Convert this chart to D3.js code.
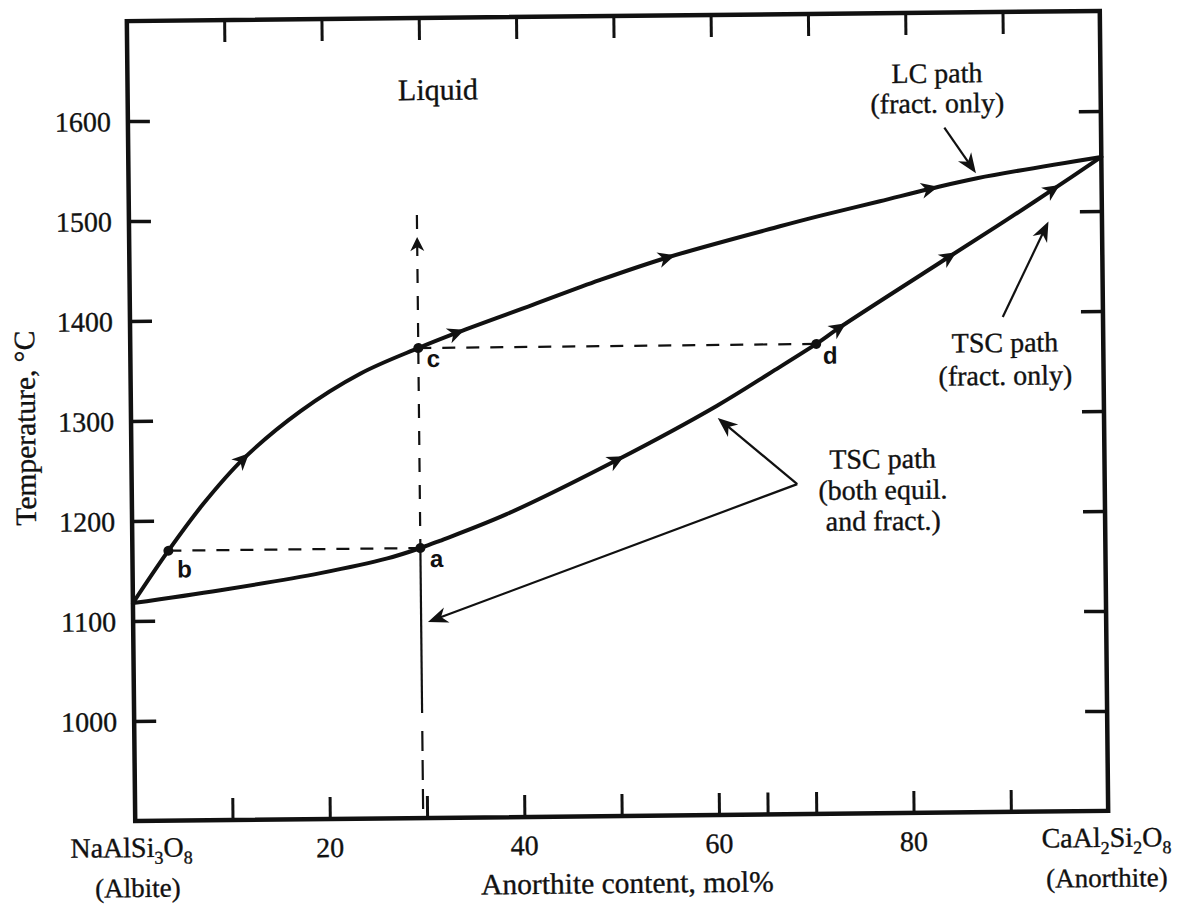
<!DOCTYPE html>
<html><head><meta charset="utf-8">
<script src="https://cdn.jsdelivr.net/npm/d3@7"></script>
<style>body{margin:0;background:#fff;} svg{display:block;}</style>
</head><body>
<svg id="chart" width="1186" height="904"></svg>
<script>
// ---------- data (Anorthite mol%, Temperature °C) ----------
const liquidusAn = [0, 3.7, 7.3, 11.5, 17.4, 23.6, 29.6, 33.6, 41.4, 48.3, 55.3, 66.9, 71.0, 77.2, 82.4, 87.2, 100];
const liquidusT  = [1118, 1170, 1216, 1261, 1308, 1345, 1370, 1385, 1412, 1436, 1458, 1488, 1498, 1512, 1524, 1534, 1554];
const solidusAn  = [0, 9.0, 19.3, 26.2, 29.6, 31.6, 38.5, 49.9, 60.2, 66.0, 70.5, 72.9, 84.3, 90.2, 95.0, 100];
const solidusT   = [1118, 1130, 1146, 1160, 1170, 1177, 1203, 1256, 1309, 1343, 1370, 1386, 1456, 1492, 1522, 1554];
const liquidusArrowAn = [11.5, 33.6, 55.3, 82.4];
const solidusArrowAn  = [49.9, 72.9, 84.3, 95.0];
const pointNames = ["b", "c", "a", "d"];
const pointAn    = [3.7, 29.6, 29.6, 70.5];
const pointT     = [1170, 1370, 1170, 1370];
const isoplethAn = 29.6;
const isoplethTopT = 1503, isoplethArrowT = 1473, isoplethSolidEndT = 1005;
const yTicks = [1000, 1100, 1200, 1300, 1400, 1500, 1600];
const xTickLabels = [20, 40, 60, 80];
const xTopTicks = [10, 20, 30, 40, 50, 60, 70, 80, 90];
const xBottomTicks = [10, 20, 30, 40, 50, 60, 65, 70, 80, 90];
const endLabelsLeft = ["NaAlSi", "3", "O", "8"];
const endLabelsRight = ["CaAl", "2", "Si", "2", "O", "8"];
const endNames = ["(Albite)", "(Anorthite)"];
const xTitle = "Anorthite content, mol%";
const yTitle = "Temperature, °C";
// annotation pointers: [fromAn, fromT, toAn, toT]
const lcPointer = [83.9, 1585, 87.1, 1539];
const tscFractPointer = [89.7, 1395, 94.5, 1490];
const tscBothVertex = [68.4, 1230];
const tscBothTips = [[60.3, 1297], [30.3, 1096]];
const labelLiquid = {an: 31.9, t: 1618, lines: ["Liquid"]};
const labelLC = {an: 83.2, t: 1630, lines: ["LC path", "(fract. only)"]};
const labelTSCf = {an: 89.9, t: 1360, lines: ["TSC path", "(fract. only)"]};
const labelTSCb = {an: 77.2, t: 1245, lines: ["TSC path", "(both equil.", "and fract.)"]};

// ---------- layout ----------
const x0 = 131, x1 = 1104, yTop = 16, yBot = 816;
const x = d3.scaleLinear().domain([0, 100]).range([x0, x1]);
const y = d3.scaleLinear().domain([900, 1700]).range([yBot, yTop]);
const cx = (x0 + x1) / 2, cy = (yTop + yBot) / 2;
const serif = "'Liberation Serif', 'Times New Roman', serif";
const sans = "'Liberation Sans', Arial, sans-serif";
const ink = "#111";

const svg = d3.select("#chart");
svg.append("rect").attr("width", 1186).attr("height", 904).attr("fill", "#fff");
const g = svg.append("g").attr("transform", `rotate(-0.6, ${cx}, ${cy})`);

function styleText(sel, size) {
  return sel.attr("font-family", serif).attr("font-size", size).attr("fill", ink)
    .attr("stroke", ink).attr("stroke-width", 0.35);
}

// ---------- axes (ticks inward) ----------
const tickLen = 22;
g.append("g").attr("transform", `translate(${x0},0)`)
  .call(d3.axisRight(y).tickValues(yTicks).tickSize(tickLen).tickFormat(""))
  .call(s => s.select(".domain").remove())
  .selectAll("line").attr("stroke", ink).attr("stroke-width", 3.5);
g.append("g").attr("transform", `translate(${x1},0)`)
  .call(d3.axisLeft(y).tickValues(yTicks).tickSize(tickLen).tickFormat(""))
  .call(s => s.select(".domain").remove())
  .selectAll("line").attr("stroke", ink).attr("stroke-width", 3.5);
g.append("g").attr("transform", `translate(0,${yTop})`)
  .call(d3.axisBottom(x).tickValues(xTopTicks).tickSize(tickLen).tickFormat(""))
  .call(s => s.select(".domain").remove())
  .selectAll("line").attr("stroke", ink).attr("stroke-width", 3);
g.append("g").attr("transform", `translate(0,${yBot})`)
  .call(d3.axisTop(x).tickValues(xBottomTicks).tickSize(tickLen).tickFormat(""))
  .call(s => s.select(".domain").remove())
  .selectAll("line").attr("stroke", ink).attr("stroke-width", 3);

// frame
g.append("rect").attr("x", x0).attr("y", yTop).attr("width", x1 - x0).attr("height", yBot - yTop)
  .attr("fill", "none").attr("stroke", ink).attr("stroke-width", 4.5);

// y tick labels
styleText(g.selectAll(".ylab").data(yTicks).join("text")
  .attr("x", x0 - 17).attr("y", d => y(d) + 10)
  .attr("text-anchor", "end"), 28)
  .text(d => d);
// x tick labels
styleText(g.selectAll(".xlab").data(xTickLabels).join("text")
  .attr("x", d => x(d)).attr("y", yBot + 38)
  .attr("text-anchor", "middle"), 28)
  .text(d => d);

function chem(xp, yp, parts) {
  const t = styleText(g.append("text").attr("x", xp).attr("y", yp).attr("text-anchor", "middle"), 28);
  parts.forEach((p, i) => {
    const sub = i % 2 === 1;
    t.append("tspan").attr("font-size", sub ? 18 : 28)
      .attr("dy", sub ? 7 : (i > 0 ? -7 : 0)).text(p);
  });
}
chem(x(0) - 4, yBot + 36, endLabelsLeft);
chem(x(100) - 2, yBot + 36, endLabelsRight);
styleText(g.append("text").attr("x", x(0) + 2).attr("y", yBot + 76).attr("text-anchor", "middle"), 27)
  .text(endNames[0]);
styleText(g.append("text").attr("x", x(100) - 2).attr("y", yBot + 76).attr("text-anchor", "middle"), 27)
  .text(endNames[1]);

// axis titles
styleText(g.append("text").attr("x", cx + 5).attr("y", yBot + 77).attr("text-anchor", "middle"), 29.5)
  .text(xTitle);
styleText(g.append("text").attr("transform", `translate(${x0 - 96},${cy + 6}) rotate(-90)`)
  .attr("text-anchor", "middle"), 29.5).text(yTitle);

// ---------- guide lines ----------
const dash = "13,11";
g.append("line").attr("x1", x(pointAn[0])).attr("x2", x(pointAn[2]))
  .attr("y1", y(pointT[0])).attr("y2", y(pointT[2]))
  .attr("stroke", ink).attr("stroke-width", 2.2).attr("stroke-dasharray", dash);
g.append("line").attr("x1", x(pointAn[1])).attr("x2", x(pointAn[3]))
  .attr("y1", y(pointT[1])).attr("y2", y(pointT[3]))
  .attr("stroke", ink).attr("stroke-width", 2.2).attr("stroke-dasharray", dash);
g.append("line").attr("x1", x(isoplethAn)).attr("x2", x(isoplethAn))
  .attr("y1", y(isoplethTopT)).attr("y2", y(pointT[2]))
  .attr("stroke", ink).attr("stroke-width", 2.2).attr("stroke-dasharray", "14,13");
g.append("line").attr("x1", x(isoplethAn)).attr("x2", x(isoplethAn))
  .attr("y1", y(pointT[2])).attr("y2", y(isoplethSolidEndT))
  .attr("stroke", ink).attr("stroke-width", 2.2);
g.append("line").attr("x1", x(isoplethAn)).attr("x2", x(isoplethAn))
  .attr("y1", y(isoplethSolidEndT) + 18).attr("y2", y(900))
  .attr("stroke", ink).attr("stroke-width", 2.2).attr("stroke-dasharray", "20,9");
g.append("path").attr("d", "M0,-8 L-7,6 L0,2 L7,6 Z").attr("fill", ink)
  .attr("transform", `translate(${x(isoplethAn)},${y(isoplethArrowT)})`);

// ---------- curves ----------
const line = d3.line().x(d => x(d[0])).y(d => y(d[1])).curve(d3.curveCatmullRom.alpha(0.5));
const liq = g.append("path").datum(liquidusAn.map((a, i) => [a, liquidusT[i]]))
  .attr("d", line).attr("fill", "none").attr("stroke", ink).attr("stroke-width", 4).attr("stroke-linecap", "round");
const sol = g.append("path").datum(solidusAn.map((a, i) => [a, solidusT[i]]))
  .attr("d", line).attr("fill", "none").attr("stroke", ink).attr("stroke-width", 4).attr("stroke-linecap", "round");

function arrowsOn(pathSel, ans) {
  const node = pathSel.node();
  const L = node.getTotalLength();
  ans.forEach(an => {
    const tx = x(an);
    let lo = 0, hi = L;
    for (let i = 0; i < 40; i++) {
      const mid = (lo + hi) / 2;
      if (node.getPointAtLength(mid).x < tx) lo = mid; else hi = mid;
    }
    const p = node.getPointAtLength(lo);
    const p1 = node.getPointAtLength(Math.max(0, lo - 4));
    const p2 = node.getPointAtLength(Math.min(L, lo + 4));
    const ang = Math.atan2(p2.y - p1.y, p2.x - p1.x) * 180 / Math.PI;
    g.append("path").attr("d", "M8,0 L-9,-8 L-4,0 L-9,8 Z").attr("fill", ink)
      .attr("transform", `translate(${p.x},${p.y}) rotate(${ang})`);
  });
}
arrowsOn(liq, liquidusArrowAn);
arrowsOn(sol, solidusArrowAn);

// points
g.selectAll(".pt").data(pointAn).join("circle")
  .attr("cx", d => x(d)).attr("cy", (d, i) => y(pointT[i])).attr("r", 5).attr("fill", ink);
const letterOff = [[16, 27], [15, 19], [16, 19], [14, 20]];
g.selectAll(".ptl").data(pointNames).join("text")
  .attr("x", (d, i) => x(pointAn[i]) + letterOff[i][0]).attr("y", (d, i) => y(pointT[i]) + letterOff[i][1])
  .attr("text-anchor", "middle").attr("font-family", sans).attr("font-size", 24).attr("font-weight", "bold")
  .attr("fill", ink).text(d => d);

// ---------- annotation pointers ----------
function pointer(fx, fy, tx, ty) {
  const ang = Math.atan2(ty - fy, tx - fx);
  g.append("line").attr("x1", fx).attr("y1", fy)
    .attr("x2", tx - 12 * Math.cos(ang)).attr("y2", ty - 12 * Math.sin(ang))
    .attr("stroke", ink).attr("stroke-width", 2.2);
  g.append("path").attr("d", "M0,0 L-20,-8 L-14,0 L-20,8 Z").attr("fill", ink)
    .attr("transform", `translate(${tx},${ty}) rotate(${ang * 180 / Math.PI})`);
}
pointer(x(lcPointer[0]), y(lcPointer[1]), x(lcPointer[2]), y(lcPointer[3]));
pointer(x(tscFractPointer[0]), y(tscFractPointer[1]), x(tscFractPointer[2]), y(tscFractPointer[3]));
tscBothTips.forEach(tp => pointer(x(tscBothVertex[0]), y(tscBothVertex[1]), x(tp[0]), y(tp[1])));

// ---------- labels ----------
function label(lb, spacing, size) {
  const t = styleText(g.append("text").attr("text-anchor", "middle"), size);
  lb.lines.forEach((s, i) => {
    t.append("tspan").attr("x", x(lb.an)).attr("y", y(lb.t) + i * spacing).text(s);
  });
}
label(labelLiquid, 0, 30);
label(labelLC, 30, 28);
label(labelTSCf, 33, 28);
label(labelTSCb, 31, 28);
</script>
</body></html>
